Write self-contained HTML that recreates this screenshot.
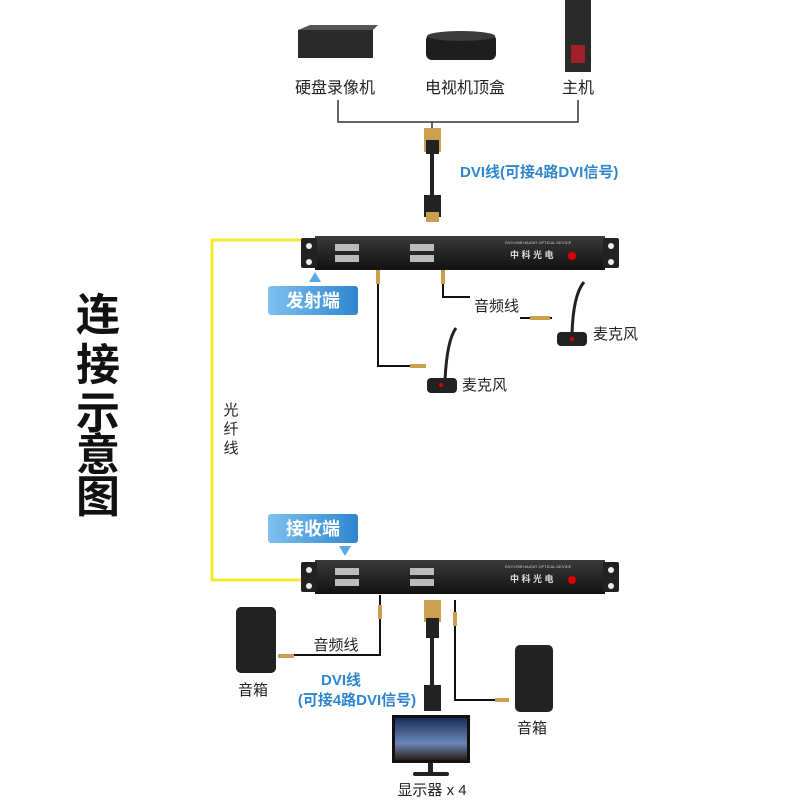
<!DOCTYPE html>
<html><head><meta charset="utf-8"><style>
html,body{margin:0;padding:0;background:#fff;}
svg{display:block;font-family:"Liberation Sans","Noto Sans CJK SC",sans-serif;}
</style></head><body>
<svg width="800" height="800" viewBox="0 0 800 800" xmlns="http://www.w3.org/2000/svg">
<defs>
<linearGradient id="bl" x1="0" x2="1"><stop offset="0" stop-color="#7ec0ef"/><stop offset="1" stop-color="#2f86cf"/></linearGradient>
<linearGradient id="rk" x1="0" y1="0" x2="0" y2="1"><stop offset="0" stop-color="#3a3a3a"/><stop offset="1" stop-color="#111"/></linearGradient>
<linearGradient id="sky" x1="0" y1="0" x2="0" y2="1"><stop offset="0" stop-color="#1c2c5a"/><stop offset="0.6" stop-color="#6a86b8"/><stop offset="1" stop-color="#2a1e18"/></linearGradient>
<g id="rack">
<rect x="0" y="0" width="290" height="34" fill="url(#rk)"/>
<rect x="-14" y="2" width="16" height="30" rx="2" fill="#222"/>
<rect x="288" y="2" width="16" height="30" rx="2" fill="#222"/>
<circle cx="-6" cy="10" r="3" fill="#eee"/><circle cx="-6" cy="26" r="3" fill="#eee"/>
<circle cx="296" cy="10" r="3" fill="#eee"/><circle cx="296" cy="26" r="3" fill="#eee"/>
<rect x="20" y="8" width="24" height="7" fill="#bbb"/><rect x="20" y="19" width="24" height="7" fill="#bbb"/>
<rect x="95" y="8" width="24" height="7" fill="#bbb"/><rect x="95" y="19" width="24" height="7" fill="#bbb"/>
<text x="195" y="22" font-size="9" fill="#ddd" font-weight="bold">中 科 光 电</text>
<text x="190" y="8" font-size="4" fill="#ccc">DVI+USB+AUDIO OPTICAL DEVICE</text>
<circle cx="257" cy="20" r="4" fill="#d00"/>
</g>
</defs>
<!-- top devices -->
<rect x="298" y="30" width="75" height="28" fill="#2a2a2a"/><polygon points="298,30 310,25 378,25 373,30" fill="#555"/>
<rect x="426" y="34" width="70" height="26" rx="6" fill="#1e1e1e"/><ellipse cx="461" cy="36" rx="34" ry="5" fill="#3a3a3a"/>
<rect x="565" y="0" width="26" height="72" fill="#2a2a2a"/><rect x="571" y="45" width="14" height="18" fill="#a0202a"/>
<g font-size="16" fill="#222" text-anchor="middle">
<text x="335" y="93">硬盘录像机</text><text x="465" y="93">电视机顶盒</text><text x="578" y="93">主机</text>
</g>
<path d="M338 100V122H578V100M432 122V130" stroke="#333" stroke-width="1.5" fill="none"/>
<rect x="424" y="128" width="17" height="24" fill="#c8a050"/><rect x="426" y="140" width="13" height="14" fill="#222"/>
<path d="M432 154V195" stroke="#222" stroke-width="4"/>
<rect x="424" y="195" width="17" height="22" fill="#222"/><rect x="426" y="212" width="13" height="10" fill="#c8a050"/>
<text x="460" y="177" font-size="15" fill="#2f86cf" font-weight="bold">DVI线(可接4路DVI信号)</text>
<!-- fiber -->
<path d="M315 240H212V580H315" stroke="#f4e92a" stroke-width="3" fill="none"/>
<use href="#rack" x="315" y="236"/>
<use href="#rack" x="315" y="560"/>
<!-- labels -->
<polygon points="309,282 321,282 315,272" fill="#5aa8e8"/>
<rect x="268" y="286" width="90" height="29" rx="3" fill="url(#bl)"/>
<text x="313" y="307" font-size="18" fill="#fff" text-anchor="middle" font-weight="bold">发射端</text>
<rect x="268" y="514" width="90" height="29" rx="3" fill="url(#bl)"/>
<text x="313" y="535" font-size="18" fill="#fff" text-anchor="middle" font-weight="bold">接收端</text>
<polygon points="339,546 351,546 345,556" fill="#5aa8e8"/>
<g font-size="44" font-weight="bold" fill="#111" text-anchor="middle">
<text x="98" y="330">连</text><text x="98" y="380">接</text><text x="98" y="428">示</text><text x="98" y="470">意</text><text x="98" y="512">图</text>
</g>
<g font-size="15" fill="#222" text-anchor="middle"><text x="231" y="415">光</text><text x="231" y="434">纤</text><text x="231" y="453">线</text></g>
<!-- audio tx -->
<path d="M378 270V366H412M443 270V297H470M520 318H552" stroke="#111" stroke-width="2" fill="none"/>
<rect x="376" y="270" width="4" height="14" fill="#c8a050"/><rect x="441" y="270" width="4" height="14" fill="#c8a050"/>
<rect x="410" y="364" width="16" height="4" fill="#c8a050"/><rect x="530" y="316" width="20" height="4" fill="#c8a050"/>
<path d="M445 380Q447 340 456 328" stroke="#222" stroke-width="3" fill="none"/><rect x="427" y="378" width="30" height="15" rx="4" fill="#222"/><circle cx="441" cy="385" r="2" fill="#d00"/>
<path d="M572 335Q573 295 584 282" stroke="#222" stroke-width="3" fill="none"/><rect x="557" y="332" width="30" height="14" rx="4" fill="#222"/><circle cx="572" cy="339" r="2" fill="#d00"/>
<g font-size="15" fill="#222"><text x="474" y="311">音频线</text><text x="593" y="339">麦克风</text><text x="462" y="390">麦克风</text></g>
<!-- rx -->
<rect x="236" y="607" width="40" height="66" rx="5" fill="#222"/>
<rect x="515" y="645" width="38" height="67" rx="5" fill="#222"/>
<path d="M380 595V655H290" stroke="#111" stroke-width="2" fill="none"/>
<rect x="378" y="605" width="4" height="14" fill="#c8a050"/><rect x="278" y="654" width="16" height="4" fill="#c8a050"/>
<rect x="424" y="600" width="17" height="22" fill="#c8a050"/><rect x="426" y="618" width="13" height="20" fill="#222"/>
<path d="M432 638V685" stroke="#222" stroke-width="4"/>
<rect x="424" y="685" width="17" height="26" fill="#222"/>
<path d="M455 600V700H500" stroke="#111" stroke-width="2" fill="none"/>
<rect x="453" y="612" width="4" height="14" fill="#c8a050"/><rect x="495" y="698" width="14" height="4" fill="#c8a050"/>
<rect x="392" y="715" width="78" height="48" fill="#111"/><rect x="395" y="718" width="72" height="42" fill="url(#sky)"/>
<rect x="428" y="763" width="5" height="10" fill="#222"/><rect x="413" y="772" width="36" height="4" rx="2" fill="#222"/>
<g font-size="15" fill="#222" text-anchor="middle">
<text x="336" y="650">音频线</text><text x="253" y="695">音箱</text><text x="532" y="733">音箱</text><text x="432" y="795">显示器 x 4</text>
</g>
<g font-size="15" fill="#2f86cf" font-weight="bold" text-anchor="middle"><text x="341" y="685">DVI线</text><text x="357" y="705">(可接4路DVI信号)</text></g>
</svg>
</body></html>
